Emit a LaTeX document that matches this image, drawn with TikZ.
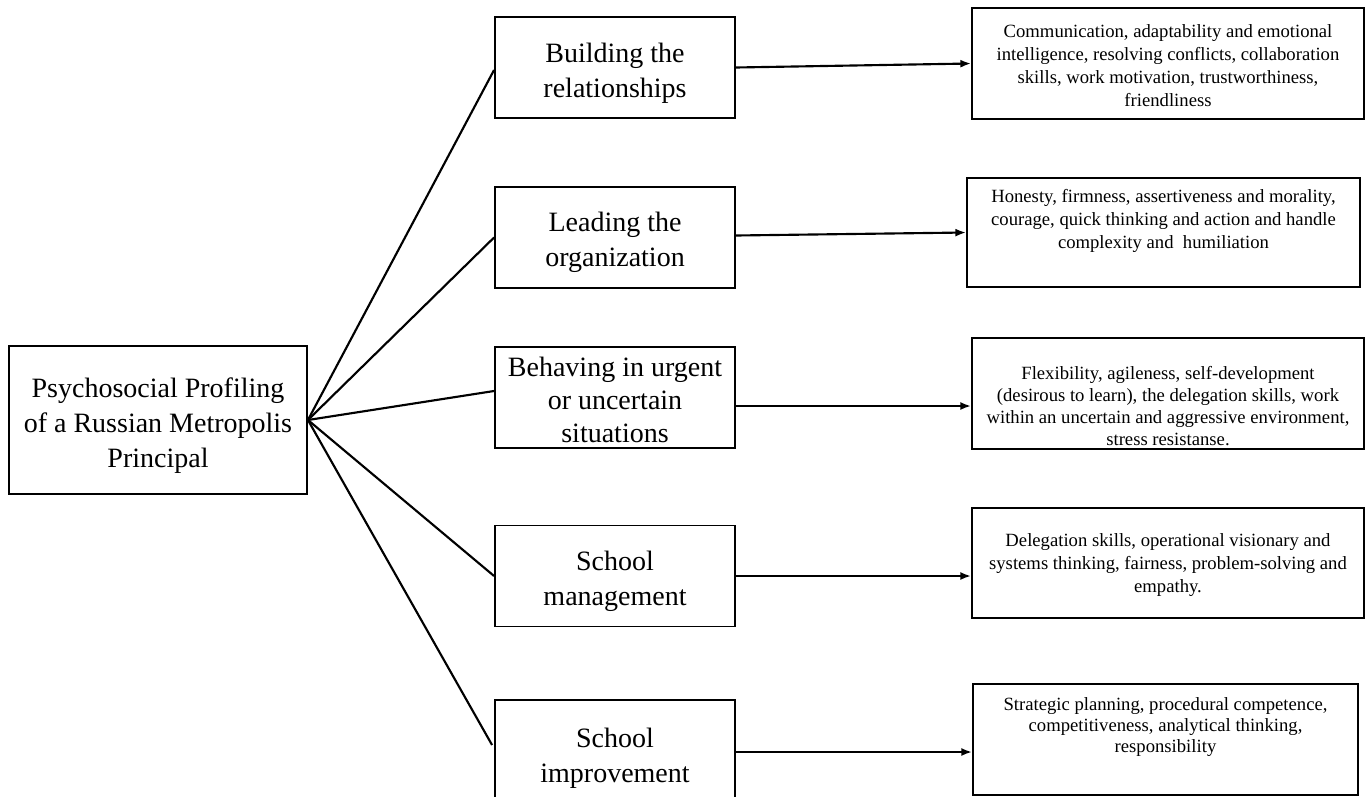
\documentclass[tikz,border=0pt]{standalone}
\usepackage{fontspec}
\setmainfont{Liberation Serif}
\usetikzlibrary{arrows.meta,calc}
\tikzset{
  box/.style={draw=black, line width=1.4pt, inner sep=0pt, fill=none},
  mainbox/.style={box, minimum width=223.5pt, minimum height=111pt},
  midbox/.style={box, minimum width=180pt, minimum height=75.75pt},
  rbox/.style={box, minimum width=294pt, minimum height=83.25pt},
  bigtext/.style={inner sep=0pt, align=center, font=\fontsize{21}{26.25}\selectfont},
  rtext/.style={inner sep=0pt, align=center, font=\fontsize{14}{17.25}\selectfont},
  fan/.style={draw=black, line width=1.6pt},
  arr/.style={draw=black, line width=1.6pt, -{Latex[length=8pt,width=6pt]}}
}
\begin{document}
\begin{tikzpicture}[x=0.75pt, y=-0.75pt]
\useasboundingbox (0,0) rectangle (1370,796);
% main node
\node[mainbox] (Main) at (158,420) {};
\node[bigtext] (MainT) at (158,426) {Psychosocial Profiling\\of a Russian Metropolis\\Principal};
% middle nodes
\node[midbox] (M1) at (615,67.5) {};
\node[midbox] (M2) at (615,237.5) {};
\node[midbox] (M3) at (615,397.5) {};
\node[midbox] (M4) at (615,576) {};
\node[midbox] (M5) at (615,750.5) {};
\node[bigtext] (M1T) at (615,73) {Building the\\relationships};
\node[bigtext] (M2T) at (615,242.5) {Leading the\\organization};
\node[bigtext, font=\fontsize{21}{24.75}\selectfont] (M3T) at (615,400) {Behaving in urgent\\or uncertain\\situations};
\node[bigtext] (M4T) at (615,581) {School\\management};
\node[bigtext] (M5T) at (615,758.5) {School\\improvement};
% right boxes
\node[rbox] (R1) at (1168,63.5) {};
\node[rbox, minimum width=294.75pt, minimum height=81.75pt] (R2) at (1163.5,232.5) {};
\node[rbox] (R3) at (1168,393.5) {};
\node[rbox, minimum height=82.5pt] (R4) at (1168,563) {};
\node[rbox, minimum width=288.75pt] (R5) at (1165.5,739.5) {};
% right texts
\node[rtext] (T1) at (1168,66) {Communication, adaptability and emotional\\intelligence, resolving conflicts, collaboration\\skills, work motivation, trustworthiness,\\friendliness};
\node[rtext] (T2) at (1163.5,221) {Honesty, firmness, assertiveness and morality,\\courage, quick thinking and action and handle\\complexity and\ \ humiliation};
\node[rtext, font=\fontsize{14}{16.5}\selectfont] (T3) at (1168,406) {Flexibility, agileness, self-development\\(desirous to learn), the delegation skills, work\\within an uncertain and aggressive environment,\\stress resistanse.};
\node[rtext] (T4) at (1168,565) {Delegation skills, operational visionary and\\systems thinking, fairness, problem-solving and\\empathy.};
\node[rtext, font=\fontsize{14}{15.75}\selectfont] (T5) at (1165.5,727) {Strategic planning, procedural competence,\\competitiveness, analytical thinking,\\responsibility};
% fan connectors
\draw[fan] (Main.east) -- ($(M1.west)+(0,2.5)$);
\draw[fan] (Main.east) -- (M2.west);
\draw[fan] (Main.east) -- ($(M3.west)+(0,-6.5)$);
\draw[fan] (Main.east) -- (M4.west);
\draw[fan] (Main.east) -- ($(M5.west)+(-2,-5.5)$);
% arrows
\coordinate (a2) at ($(M2.east)+(0,-2)$);
\coordinate (a3) at ($(M3.east)+(0,8.5)$);
\coordinate (a5) at ($(M5.east)+(0,1.5)$);
\draw[arr] (M1.east) -- (R1.west);
\draw[arr] (a2) -- (R2.west);
\draw[arr] (a3) -- (a3 -| R3.west);
\draw[arr] (M4.east) -- (M4.east -| R4.west);
\draw[arr] (a5) -- (a5 -| R5.west);
\end{tikzpicture}
\end{document}
